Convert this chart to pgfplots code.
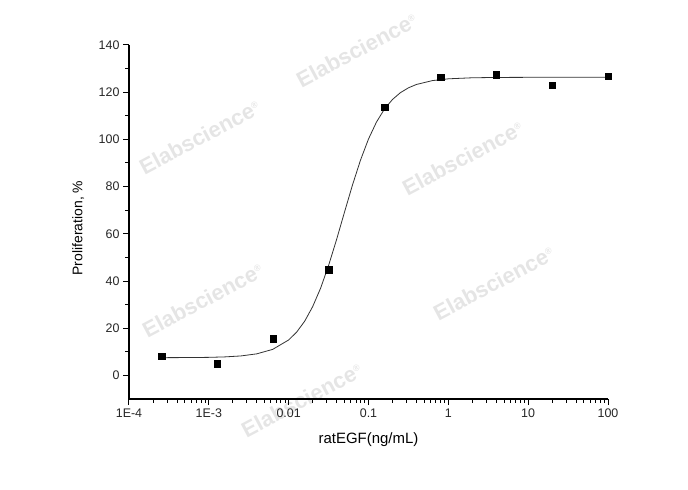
\documentclass[border=0pt]{standalone}
\usepackage{pgfplots}
\pgfplotsset{compat=1.18}
\usepackage{fontspec}
\setmainfont{Liberation Sans}

% measured points, 5-fold dilution series
\pgfplotstableread{
x        y
0.000256 8.1
0.00128  5.0
0.0064   15.6
0.032    44.7
0.16     113.6
0.8      126.3
4        127.4
20       123.0
100      126.7
}\pts

% fitted curve
\pgfplotstableread{
x         y
0.000257  7.51
0.000631  7.57
0.001     7.65
0.001585  7.84
0.002512  8.24
0.003981  9.13
0.00631   11.03
0.01      15.02
0.01259   18.35
0.01585   22.93
0.01995   29.08
0.02512   36.95
0.03162   46.55
0.03981   57.54
0.05012   69.25
0.0631    80.74
0.07943   91.22
0.1       100.17
0.1259    107.35
0.1585    112.86
0.1995    116.90
0.2512    119.81
0.3162    121.85
0.3981    123.27
0.631     124.91
1         125.67
1.995     126.11
3.981     126.25
10        126.3
31.62     126.3
100       126.3
}\fit

\begin{document}
\begin{tikzpicture}
\path[use as bounding box] (-129bp,-91bp) rectangle (559bp,399bp);
\tikzset{wm/.style={rotate=28, text=black!10, font=\bfseries\fontsize{22}{22}\selectfont, inner sep=0pt}}
\node[wm] at (228bp,349bp) {Elabscience\textsuperscript{\fontsize{9}{9}\selectfont ®}};
\node[wm] at (71bp,262bp) {Elabscience\textsuperscript{\fontsize{9}{9}\selectfont ®}};
\node[wm] at (334bp,241bp) {Elabscience\textsuperscript{\fontsize{9}{9}\selectfont ®}};
\node[wm] at (74bp,99bp) {Elabscience\textsuperscript{\fontsize{9}{9}\selectfont ®}};
\node[wm] at (365bp,116bp) {Elabscience\textsuperscript{\fontsize{9}{9}\selectfont ®}};
\node[wm] at (173bp,-1bp) {Elabscience\textsuperscript{\fontsize{9}{9}\selectfont ®}};
\begin{axis}[
  scale only axis, width=479bp, height=354bp,
  xmode=log, xmin=1e-4, xmax=100, ymin=-10, ymax=140,
  axis lines=left, axis line style={-, line width=1.2bp},
  tick align=outside, major tick length=6bp, minor tick length=3.5bp,
  every tick/.style={black, line width=1bp},
  xtick={1e-4,1e-3,0.01,0.1,1,10,100},
  xticklabels={1E-4,1E-3,0.01,0.1,1,10,100},
  minor xtick={2e-4,3e-4,4e-4,5e-4,6e-4,7e-4,8e-4,9e-4,
    2e-3,3e-3,4e-3,5e-3,6e-3,7e-3,8e-3,9e-3,
    0.02,0.03,0.04,0.05,0.06,0.07,0.08,0.09,
    0.2,0.3,0.4,0.5,0.6,0.7,0.8,0.9,
    2,3,4,5,6,7,8,9,20,30,40,50,60,70,80,90},
  ytick={0,20,...,140}, minor y tick num=1,
  /pgf/number format/assume math mode=true,
  ticklabel style={font=\fontsize{12.5}{14}\selectfont, black!85},
  xlabel={ratEGF(ng/mL)}, ylabel={Proliferation, \%},
  every axis x label/.style={at={(axis description cs:0.5,-0.116)}, anchor=center, font=\fontsize{15}{17}\selectfont},
  every axis y label/.style={at={(axis description cs:-0.106,0.483)}, anchor=center, rotate=90, font=\fontsize{14}{16}\selectfont},
  clip=false,
]
\addplot[no marks, black!80, line width=0.8bp] table {\fit};
\addplot[only marks, mark=square*, mark size=3.3bp, black] table {\pts};
\end{axis}
\end{tikzpicture}
\end{document}
